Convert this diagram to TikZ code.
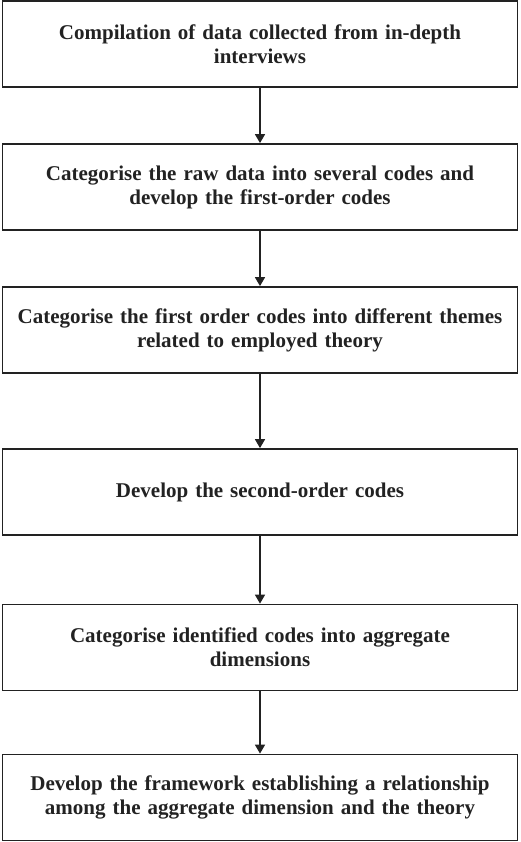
\documentclass[tikz,border=0pt]{standalone}
\usepackage{fontspec}
\setmainfont{Liberation Serif}
\usepackage{tikz}
\usetikzlibrary{positioning,arrows.meta}
\definecolor{colLinea}{HTML}{222222}

\begin{document}
\begin{tikzpicture}[x=1pt, y=-1pt, >={Triangle[width=10pt,length=9pt]},
    paso/.style={draw=colLinea, line width=1.8pt, minimum width=515pt, minimum height=86pt,
        text width=508pt, align=center, inner sep=0pt,
        font=\bfseries\fontsize{21}{24}\selectfont, text=colLinea},
    flecha/.style={->, draw=colLinea, line width=1.6pt}]
    % Margenes
    \useasboundingbox (0,0) rectangle (520,842);

    % Pasos
    \node[paso] (comp) at (260,44) {Compilation of data collected from in-depth\\ interviews};
    \node[paso] (cat1) at (260,187) {Categorise the raw data into several codes and\\ develop the first-order codes};
    \node[paso] (cat2) at (260,330) {Categorise the first order codes into different themes\\ related to employed theory};
    \node[paso] (seg) at (260,492) {Develop the second-order codes};
    \node[paso] (agr) at (260,647.5) {Categorise identified codes into aggregate\\ dimensions};
    \node[paso] (marco) at (260,797.5) {Develop the framework establishing a relationship\\ among the aggregate dimension and the theory};

    % Flechas
    \draw[flecha] (comp) -- (cat1);
    \draw[flecha] (cat1) -- (cat2);
    \draw[flecha] (cat2) -- (seg);
    \draw[flecha] (seg) -- (agr);
    \draw[flecha] (agr) -- (marco);
\end{tikzpicture}
\end{document}
